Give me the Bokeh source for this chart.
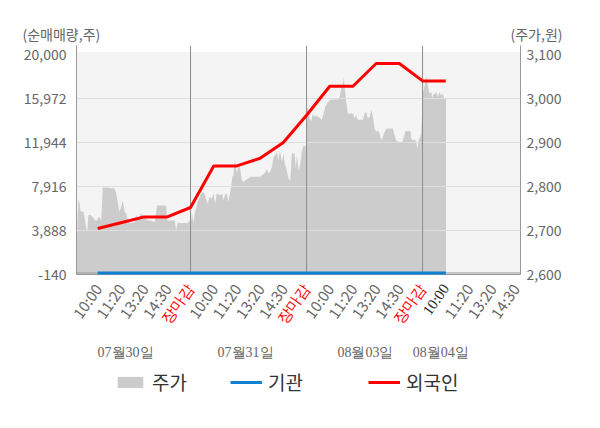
import math
from bokeh.plotting import figure
from bokeh.layouts import column
from bokeh.models import (Range1d, LinearAxis, FixedTicker, NumeralTickFormatter, Span,
                          BoxAnnotation, Label, LabelSet, ColumnDataSource, Legend, LegendItem)
from bokeh.embed import file_html
from bokeh.resources import INLINE

FONT = "Noto Sans CJK KR"

# ---------------- data ----------------
# x positions are time slots (5 slots per trading day, slot 5/10/15 = close)
tick_slots = list(range(1, 20))
tick_labels = ["10:00", "11:20", "13:20", "14:30", "장마감",
               "10:00", "11:20", "13:20", "14:30", "장마감",
               "10:00", "11:20", "13:20", "14:30", "장마감",
               "10:00", "11:20", "13:20", "14:30"]
date_labels = ["07월30일", "07월31일", "08월03일", "08월04일"]
date_slots = [2.2, 7.37, 12.54, 15.78]

left_ticks = [-140, 3888, 7916, 11944, 15972, 20000]
right_ticks = [2600, 2700, 2800, 2900, 3000, 3100]

# stock price (주가)
price_t = [0.09, 0.13, 0.17, 0.22, 0.26, 0.39, 0.47, 0.55, 0.60, 0.69, 0.79, 0.89, 0.98,
           1.03, 1.08, 1.15, 1.22, 1.42, 1.55, 1.72, 1.80, 1.87, 1.94, 2.01, 2.08, 2.16,
           2.23, 2.30, 2.37, 2.59, 2.66, 2.73, 2.88, 3.02, 3.16, 3.31, 3.45, 3.56, 3.95,
           4.00, 4.31, 4.38, 4.45, 4.88, 4.96,
           4.99, 5.06, 5.13, 5.17, 5.23, 5.31, 5.42, 5.49, 5.60, 5.66, 5.75, 5.81, 5.92,
           5.99, 6.06, 6.13, 6.28, 6.35, 6.42, 6.49, 6.56, 6.64, 6.71, 6.75, 6.81, 6.85,
           6.90, 6.95, 7.00, 7.07, 7.14, 7.21, 7.28, 7.36, 7.50, 7.57, 8.00, 8.19, 8.29,
           8.36, 8.43, 8.50, 8.58, 8.65, 8.72, 8.79, 8.85, 8.94, 9.00, 9.07, 9.15, 9.22,
           9.30, 9.37, 9.48, 9.54, 9.58, 9.66, 9.73, 9.80, 9.88, 9.97,
           10.03, 10.09, 10.13, 10.20, 10.27, 10.34, 10.42, 10.49, 10.60, 10.66, 10.75,
           10.81, 10.89, 10.99, 11.06, 11.35, 11.42, 11.50, 11.56, 11.61, 11.64, 11.71,
           11.78, 12.00, 12.07, 12.14, 12.21, 12.43, 12.50, 12.57, 12.64, 12.72, 12.79,
           12.86, 12.93, 13.01, 13.07, 13.15, 13.22, 13.29, 13.36, 13.44, 13.72, 13.79,
           13.87, 14.01, 14.11, 14.20, 14.26, 14.48, 14.51, 14.58, 14.66, 14.73, 14.77,
           14.83, 14.87, 14.94,
           15.01, 15.09, 15.16, 15.23, 15.30, 15.37, 15.42, 15.44, 15.52, 15.59, 15.66,
           15.73, 15.80, 15.87, 15.94, 16.01]
price_v = [2655, 2721, 2771, 2762, 2744, 2742, 2717, 2696, 2735, 2735, 2730, 2723, 2723,
           2730, 2730, 2723, 2798, 2798, 2796, 2796, 2785, 2762, 2742, 2753, 2769, 2742,
           2739, 2723, 2717, 2719, 2735, 2728, 2739, 2730, 2723, 2723, 2719, 2757, 2757,
           2723, 2723, 2701, 2717, 2717, 2723,
           2708, 2739, 2716, 2735, 2750, 2765, 2780, 2788, 2784, 2773, 2761, 2776, 2773,
           2784, 2761, 2784, 2780, 2784, 2769, 2782, 2784, 2765, 2788, 2799, 2826, 2822,
           2861, 2845, 2830, 2848, 2841, 2814, 2810, 2814, 2818, 2822, 2822, 2830, 2839,
           2830, 2833, 2843, 2867, 2871, 2879, 2860, 2882, 2856, 2875, 2852, 2837, 2818,
           2814, 2876, 2875, 2841, 2871, 2837, 2852, 2882, 2894, 2890,
           2981, 2970, 2955, 2947, 2966, 2958, 2962, 2958, 2955, 2951, 2970,
           2981, 2989, 2996, 2998, 2998, 3004, 3023, 3030, 3048, 3026, 2992,
           2966, 2966, 2955, 2962, 2952, 2952, 2966, 2970, 2955, 2958, 2975,
           2958, 2932, 2924, 2928, 2920, 2905, 2913, 2924, 2932, 2932, 2917,
           2904, 2901, 2899, 2913, 2926, 2926, 2909, 2905, 2907, 2901, 2884,
           2905, 2909, 2920,
           3011, 3030, 3049, 3026, 3011, 3015, 3000, 3007, 3011, 3015, 3004,
           3015, 3007, 3011, 3000, 3000]

# cumulative net buying (순매매량)
flow_slots = list(range(1, 17))
foreign = [4071, 4602, 5133, 5133, 5994, 9802, 9802, 10507, 11944, 14443,
           17098, 17098, 19177, 19177, 17584, 17584]
institution = [0, 0, 0, 0, 0, 0, 0, 0, 0, 0, 0, 0, 0, 0, 0, 0]

# ---------------- layout helpers ----------------
W, H = 584, 412
BL, BR, BT, BB = 76, 64, 45, 138          # borders around the plot frame
X0, X1 = 0.086, 19.22                      # slot range shown
Y0, Y1 = -140, 20825                       # left axis range
P0, P1 = 2600, 3120.5                      # right axis range
UX = (X1 - X0) / (W - BL - BR)             # slots per pixel
UY = (Y1 - Y0) / (H - BT - BB)             # left units per pixel
XFONT = "15px"

# ---------------- main chart ----------------
p = figure(width=W, height=H, output_backend="svg", toolbar_location=None,
           x_range=Range1d(X0, X1), y_range=Range1d(Y0, Y1),
           min_border_left=BL, min_border_right=BR, min_border_top=BT, min_border_bottom=BB,
           x_axis_location=None, y_axis_location=None)
p.extra_y_ranges = {"price": Range1d(P0, P1)}
p.grid.visible = False
p.outline_line_color = None
p.background_fill_color = "white"
p.border_fill_color = "white"
p.frame_align = False

p.add_layout(BoxAnnotation(bottom=Y0, top=20240, fill_color="#f4f4f4", fill_alpha=1,
                           line_color=None, level="underlay"))

area_src = ColumnDataSource(dict(t=price_t, v=price_v))
p.varea(x="t", y1=P0, y2="v", source=area_src, y_range_name="price",
        fill_color="#cccccc", fill_alpha=1)

for v in left_ticks[1:5]:
    p.add_layout(Span(location=v, dimension="width", line_color="#dedede", line_width=1))
p.add_layout(Span(location=0, dimension="width", line_color="#9a9a9a", line_width=1))
for d in [5, 10, 15]:
    p.add_layout(Span(location=d, dimension="height", line_color="#8c8c8c", line_width=1))

p.line(flow_slots, institution, line_color="#1080d0", line_width=3, level="overlay")
p.line(flow_slots, foreign, line_color="#ff0000", line_width=3, level="overlay")

def style(ax, size="14px"):
    ax.major_tick_line_color = None
    ax.minor_tick_line_color = None
    ax.major_tick_out = 0
    ax.major_tick_in = 0
    ax.major_label_text_color = "#666666"
    ax.major_label_text_font = FONT
    ax.major_label_text_font_size = size

left = LinearAxis(ticker=FixedTicker(ticks=left_ticks), formatter=NumeralTickFormatter(format="0,0"))
style(left)
left.axis_line_color = "#999999"
left.major_label_standoff = 10
p.add_layout(left, "left")

right = LinearAxis(y_range_name="price", ticker=FixedTicker(ticks=right_ticks),
                   formatter=NumeralTickFormatter(format="0,0"))
style(right)
right.axis_line_color = "#999999"
right.major_label_standoff = 6
p.add_layout(right, "right")

special = {i for i, s in zip(tick_slots, tick_labels) if s == "장마감"} | {16}
overrides = {i: ("" if i in special else s) for i, s in zip(tick_slots, tick_labels)}
bottom = LinearAxis(ticker=FixedTicker(ticks=tick_slots), major_label_overrides=overrides)
style(bottom, XFONT)
bottom.axis_line_color = "#999999"
bottom.major_label_orientation = math.radians(55)
bottom.major_label_standoff = 11
p.add_layout(bottom, "below")

# ---------------- transparent overlay with same data mapping (texts outside the frame) ----------------
q = figure(width=W, height=H, output_backend="svg", toolbar_location=None, title=None,
           x_range=Range1d(X0 - BL * UX, X1 + BR * UX), y_range=Range1d(Y0 - BB * UY, Y1 + BT * UY),
           min_border=0, min_border_left=0, min_border_right=0, min_border_top=0, min_border_bottom=0,
           x_axis_location=None, y_axis_location=None,
           background_fill_alpha=0, border_fill_alpha=0)
q.grid.visible = False
q.outline_line_color = None
q.frame_align = False
q.margin = (-H, 0, 0, 0)

# colored tick labels (close = red, current = dark)
sp_x = [i for i in tick_slots if i in special]
sp_t = [tick_labels[i - 1] for i in sp_x]
sp_c = ["#222222" if t != "장마감" else "#ff0000" for t in sp_t]
q.add_layout(LabelSet(x="x", y="y", text="t", text_color="c",
                      source=ColumnDataSource(dict(x=sp_x, y=[Y0 - 11 * UY] * len(sp_x), t=sp_t, c=sp_c)),
                      angle=55, angle_units="deg", text_align="right", text_baseline="middle",
                      text_font=FONT, text_font_size=XFONT))

# date labels
q.add_layout(LabelSet(x="x", y="y", text="t",
                      source=ColumnDataSource(dict(x=date_slots, y=[Y0 - 78 * UY] * 4, t=date_labels)),
                      text_align="center", text_baseline="middle", text_color="#666666",
                      text_font=FONT, text_font_size="14px"))

# unit titles
title_y = Y0 + 241 * UY
q.add_layout(Label(x=X0 - 54 * UX, y=title_y, text="(순매매량,주)", text_align="left",
                   text_baseline="middle", text_color="#666666", text_font=FONT, text_font_size="14px"))
q.add_layout(Label(x=X1 + 42 * UX, y=title_y, text="(주가,원)", text_align="right",
                   text_baseline="middle", text_color="#666666", text_font=FONT, text_font_size="14px"))

# legend (proxy renderers placed outside the view carry the series styles)
far_x, far_y = [X0 - 500, X0 - 499], [Y0 - 1e6, Y0 - 1e6]
g_area = q.varea(x=far_x, y1=far_y, y2=far_y, fill_color="#cccccc", fill_alpha=1)
g_inst = q.line(x=far_x, y=far_y, line_color="#1080d0", line_width=3)
g_for = q.line(x=far_x, y=far_y, line_color="#ff0000", line_width=3)
for r, name, lx in [(g_area, "주가", 114), (g_inst, "기관", 230), (g_for, "외국인", 368)]:
    q.add_layout(Legend(items=[LegendItem(label=name, renderers=[r])], location=(lx, 17),
                        padding=0, margin=0, spacing=0, border_line_color=None,
                        background_fill_alpha=0, glyph_width=32, glyph_height=14, label_height=20,
                        label_standoff=6, label_text_font=FONT, label_text_font_size="19px",
                        label_text_color="#333333"))

open("out.html", "w").write(file_html(column(p, q, spacing=0), INLINE))
